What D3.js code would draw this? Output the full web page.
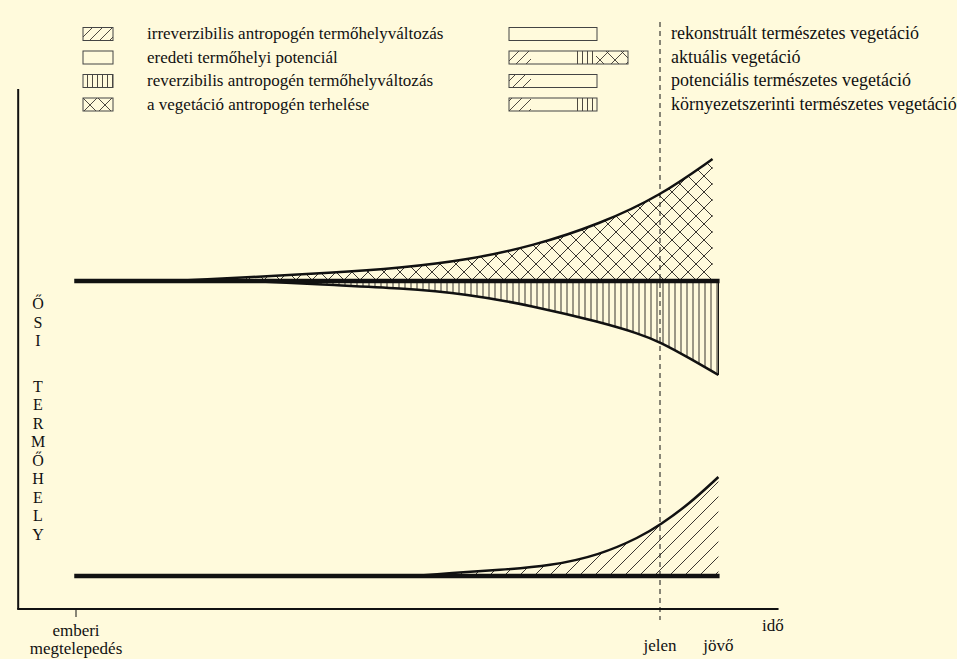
<!DOCTYPE html>
<html>
<head>
<meta charset="utf-8">
<script src="https://cdn.jsdelivr.net/npm/d3@7"></script>
<style>
  body { margin: 0; background: #fffadc; }
  svg { display: block; }
  text { font-family: "Liberation Serif", "Times New Roman", serif; fill: #111; }
</style>
</head>
<body>
<div id="chart"></div>
<script>
// time axis: 0 = emberi megtelepedés, 100 = jelen, 110 = jövő
// levels: height of the line above the time axis
const base_upper = 328;
const base_lower = 33;

// a vegetáció antropogén terhelése (above upper baseline)
const load_t = [17, 30, 43.5, 55.5, 67, 78.3, 89.7, 100, 109];
const load_v = [0, 4, 8, 13, 21, 35, 57, 85, 122];

// reverzibilis antropogén termőhelyváltozás (below upper baseline)
const rev_t = [30.3, 43.5, 55.5, 67, 78.3, 89.7, 96.6, 100, 105, 110];
const rev_v = [0, 4, 7, 13, 25, 41, 53, 61, 77, 94];

// irreverzibilis antropogén termőhelyváltozás (above lower baseline)
const irr_t = [58, 64, 72.6, 81.2, 89.7, 96.6, 100, 105, 110];
const irr_v = [0, 3, 6, 10, 21, 39, 51, 72, 99];

const time_ticks = [
  {t: 0, lines: ['emberi', 'megtelepedés'], mark: 'tick'},
  {t: 100, lines: ['jelen'], mark: 'dash'},
  {t: 110, lines: ['jövő'], mark: 'none'}
];

const legend_left = [
  {pattern: 'diag_small', label: 'irreverzibilis antropogén termőhelyváltozás'},
  {pattern: null, label: 'eredeti termőhelyi potenciál'},
  {pattern: 'vert_small', label: 'reverzibilis antropogén termőhelyváltozás'},
  {pattern: 'cross_small', label: 'a vegetáció antropogén terhelése'}
];

const legend_right = [
  {label: 'rekonstruált természetes vegetáció', parts: [[null, 88]]},
  {label: 'aktuális vegetáció', parts: [['diag_small', 22], [null, 43], ['vert_small', 22], ['cross_small', 32]]},
  {label: 'potenciális természetes vegetáció', parts: [['diag_small', 22], [null, 66]]},
  {label: 'környezetszerinti természetes vegetáció', parts: [['diag_small', 22], [null, 43], ['vert_small', 23]]}
];

const y_label = ['Ő', 'S', 'I', '', 'T', 'E', 'R', 'M', 'Ő', 'H', 'E', 'L', 'Y'];

const width = 957, height = 659;
const svg = d3.select('#chart').append('svg')
  .attr('width', width)
  .attr('height', height)
  .style('background', '#fffadc');

const x_scale = d3.scaleLinear().domain([0, 100]).range([76, 660]);
const y_scale = d3.scaleLinear().domain([0, 520]).range([609, 89]);

const ink = '#111';
const hatch = '#3a3630';

// Patterns
const defs = svg.append('defs');
function add_pattern(id, size, d, sw) {
  defs.append('pattern')
    .attr('id', id)
    .attr('patternUnits', 'userSpaceOnUse')
    .attr('width', size)
    .attr('height', size)
    .append('path')
    .attr('d', d)
    .attr('stroke', hatch)
    .attr('stroke-width', sw)
    .attr('fill', 'none');
}
function diag_path(s) {
  return `M0,${s} L${s},0 M${-s / 4},${s / 4} L${s / 4},${-s / 4} M${s * 3 / 4},${s * 5 / 4} L${s * 5 / 4},${s * 3 / 4}`;
}
function cross_path(s) {
  return diag_path(s) + ` M0,0 L${s},${s} M${-s / 4},${s * 3 / 4} L${s / 4},${s * 5 / 4} M${s * 3 / 4},${-s / 4} L${s * 5 / 4},${s / 4}`;
}
function vert_path(s) {
  return `M${s / 2},0 L${s / 2},${s}`;
}
add_pattern('diag', 15, diag_path(15), 1);
add_pattern('diag_small', 10, diag_path(10), 0.9);
add_pattern('cross', 16, cross_path(16), 1);
add_pattern('cross_small', 15, cross_path(15), 0.9);
add_pattern('vert', 6, vert_path(6), 1);
add_pattern('vert_small', 5, vert_path(5), 0.9);

// Hatched areas
function make_area(ts, vs, base, sign) {
  return {
    data: ts.map((t, i) => ({t, v: vs[i]})),
    area: d3.area()
      .x(d => x_scale(d.t))
      .y0(y_scale(base))
      .y1(d => y_scale(base + sign * d.v))
      .curve(d3.curveBasis),
    line: d3.line()
      .x(d => x_scale(d.t))
      .y(d => y_scale(base + sign * d.v))
      .curve(d3.curveBasis)
  };
}

const series = [
  Object.assign(make_area(load_t, load_v, base_upper, 1), {fill: 'cross'}),
  Object.assign(make_area(rev_t, rev_v, base_upper, -1), {fill: 'vert'}),
  Object.assign(make_area(irr_t, irr_v, base_lower, 1), {fill: 'diag'})
];

const plot = svg.append('g');
series.forEach(s => {
  plot.append('path')
    .datum(s.data)
    .attr('d', s.area)
    .attr('fill', `url(#${s.fill})`);
});

// right edge of reversible area
plot.append('line')
  .attr('x1', x_scale(rev_t[rev_t.length - 1]))
  .attr('x2', x_scale(rev_t[rev_t.length - 1]))
  .attr('y1', y_scale(base_upper))
  .attr('y2', y_scale(base_upper - rev_v[rev_v.length - 1]))
  .attr('stroke', ink)
  .attr('stroke-width', 1.2);

series.forEach(s => {
  plot.append('path')
    .datum(s.data)
    .attr('d', s.line)
    .attr('fill', 'none')
    .attr('stroke', ink)
    .attr('stroke-width', 2.5);
});

// Baselines
[base_upper, base_lower].forEach(b => {
  plot.append('line')
    .attr('x1', x_scale(-0.3))
    .attr('x2', x_scale(110.2))
    .attr('y1', y_scale(b))
    .attr('y2', y_scale(b))
    .attr('stroke', ink)
    .attr('stroke-width', 4.5);
});

// Axes
svg.append('line')
  .attr('x1', x_scale(-9.9)).attr('x2', x_scale(-9.9))
  .attr('y1', y_scale(520)).attr('y2', y_scale(0))
  .attr('stroke', ink).attr('stroke-width', 2);
svg.append('line')
  .attr('x1', x_scale(-9.9) - 1).attr('x2', x_scale(120.3))
  .attr('y1', y_scale(0)).attr('y2', y_scale(0))
  .attr('stroke', ink).attr('stroke-width', 2);

// Time ticks and labels
time_ticks.forEach(d => {
  const x = x_scale(d.t);
  if (d.mark === 'tick') {
    svg.append('line')
      .attr('x1', x).attr('x2', x)
      .attr('y1', y_scale(0)).attr('y2', y_scale(0) + 8)
      .attr('stroke', ink).attr('stroke-width', 1);
  } else if (d.mark === 'dash') {
    svg.append('line')
      .attr('x1', x).attr('x2', x)
      .attr('y1', 22).attr('y2', y_scale(0) + 11)
      .attr('stroke', ink).attr('stroke-width', 1)
      .attr('stroke-dasharray', '5,4');
  }
  const y0 = d.lines.length > 1 ? 636 : 651;
  d.lines.forEach((l, i) => {
    svg.append('text')
      .attr('x', x)
      .attr('y', y0 + i * 18)
      .attr('text-anchor', 'middle')
      .style('font-size', '17px')
      .text(l);
  });
});

svg.append('text')
  .attr('x', 762)
  .attr('y', 631)
  .style('font-size', '17px')
  .text('idő');

// Vertical y label
svg.append('g')
  .selectAll('text')
  .data(y_label)
  .enter()
  .append('text')
  .attr('x', 38)
  .attr('y', (d, i) => 309 + i * 18.5 + (i > 3 ? 8.5 : 0))
  .attr('text-anchor', 'middle')
  .style('font-size', '16px')
  .text(d => d);

// Legend (left)
const row_y = [34, 57.5, 81, 104.5];
const box_h = 13;
const legL = svg.append('g');
legend_left.forEach((d, i) => {
  const y = row_y[i];
  if (d.pattern) {
    legL.append('rect')
      .attr('x', 83).attr('y', y - box_h / 2)
      .attr('width', 30).attr('height', box_h)
      .attr('fill', `url(#${d.pattern})`);
  }
  legL.append('rect')
    .attr('x', 83).attr('y', y - box_h / 2)
    .attr('width', 30).attr('height', box_h)
    .attr('fill', 'none')
    .attr('stroke', '#444').attr('stroke-width', 1);
  legL.append('text')
    .attr('x', 147).attr('y', y + 5)
    .style('font-size', '17px')
    .text(d.label);
});

// Legend (right)
const legR = svg.append('g');
legend_right.forEach((d, i) => {
  const y = row_y[i];
  let x = 509;
  d.parts.forEach(([p, w]) => {
    if (p) {
      legR.append('rect')
        .attr('x', x).attr('y', y - box_h / 2)
        .attr('width', w).attr('height', box_h)
        .attr('fill', `url(#${p})`);
    }
    x += w;
  });
  legR.append('rect')
    .attr('x', 509).attr('y', y - box_h / 2)
    .attr('width', x - 509).attr('height', box_h)
    .attr('fill', 'none')
    .attr('stroke', '#444').attr('stroke-width', 1);
  legR.append('text')
    .attr('x', 671).attr('y', y + 5)
    .style('font-size', '18px')
    .text(d.label);
});
</script>
</body>
</html>
